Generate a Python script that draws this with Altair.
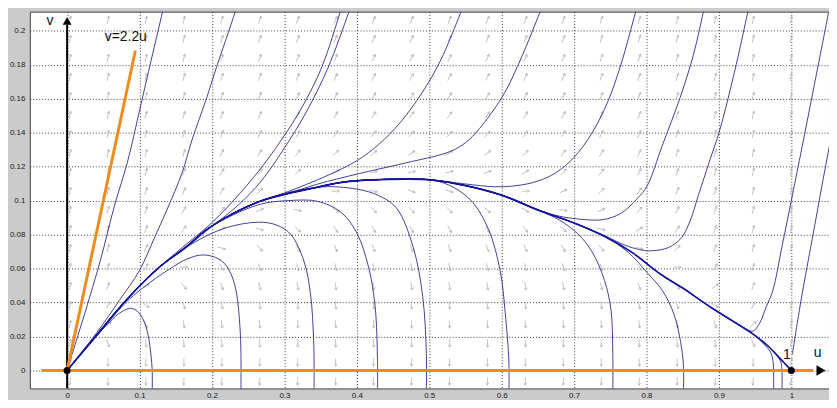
import altair as alt
import pandas as pd

# ---------------- axes ----------------
X_DOMAIN = [-0.0515, 1.052]
Y_DOMAIN = [-0.0106, 0.2113]
X_TICKS = [0, 0.1, 0.2, 0.3, 0.4, 0.5, 0.6, 0.7, 0.8, 0.9, 1]
Y_TICKS = [0, 0.02, 0.04, 0.06, 0.08, 0.1, 0.12, 0.14, 0.16, 0.18, 0.2]

# ---------------- trajectories (u, v) ----------------
SEPARATRIX = [(0, 0), (0.0359, 0.0183), (0.0816, 0.0414), (0.127, 0.0607), (0.1635, 0.0724),
              (0.1954, 0.0838), (0.2637, 0.0992), (0.3456, 0.1079), (0.3866, 0.1112),
              (0.4686, 0.1127), (0.505, 0.1121), (0.5505, 0.1088), (0.6007, 0.1031),
              (0.6507, 0.0944), (0.7008, 0.0867), (0.7418, 0.079), (0.78, 0.0695),
              (0.82, 0.0565), (0.85, 0.0485), (0.8876, 0.0375), (0.9467, 0.0215),
              (0.97, 0.0135), (0.99, 0.0045), (1.0, 0.0)]

H1 = [(0, 0), (0.03, 0.0152), (0.0587, 0.0285), (0.075, 0.0345), (0.0884, 0.0366), (0.099, 0.034),
      (0.107, 0.028), (0.113, 0.0183), (0.116, 0.008), (0.1175, 0.0), (0.1175, -0.012)]
H2 = [(0, 0), (0.04, 0.0197), (0.08, 0.0395), (0.1042, 0.0485), (0.1407, 0.0595), (0.165, 0.0655),
      (0.186, 0.068), (0.205, 0.0665), (0.218, 0.0626), (0.228, 0.055), (0.234, 0.0453),
      (0.2386, 0.026), (0.24, 0.01), (0.24, -0.012)]
H3_TAIL = [(0.172, 0.0745), (0.218, 0.0838), (0.264, 0.0873), (0.29, 0.0855), (0.309, 0.08),
           (0.327, 0.0644), (0.336, 0.0452), (0.3405, 0.0163), (0.341, -0.012)]
H4_TAIL = [(0.2637, 0.0975), (0.305, 0.1), (0.3456, 0.0996), (0.3775, 0.0934), (0.40, 0.081),
           (0.4163, 0.0607), (0.4253, 0.0376), (0.4286, 0.0048), (0.4286, -0.012)]
H5_TAIL = [(0.40, 0.1068), (0.43, 0.103), (0.455, 0.0955), (0.478, 0.0724), (0.491, 0.0435),
           (0.496, 0.01), (0.496, -0.012)]
H6_TAIL = [(0.535, 0.1075), (0.56, 0.099), (0.582, 0.083), (0.598, 0.0587), (0.605, 0.0337),
           (0.61, 0.005), (0.61, -0.012)]
H7_TAIL = [(0.68, 0.0885), (0.705, 0.0805), (0.724, 0.0705), (0.742, 0.053), (0.751, 0.0356),
           (0.7535, 0.01), (0.7535, -0.012)]
H8_TAIL = [(0.775, 0.0695), (0.80, 0.058), (0.822, 0.047), (0.838, 0.033), (0.847, 0.017),
           (0.851, 0.003), (0.851, -0.012)]
H9_TAIL = [(0.962, 0.0155), (0.971, 0.011), (0.9745, 0.006), (0.9755, 0.0), (0.9755, -0.012)]
H10_TAIL = [(0.968, 0.0143), (0.979, 0.009), (0.985, 0.0055), (0.987, 0.0), (0.987, -0.012)]

CURVE_A = [(0, 0), (0.0068, 0.0094), (0.0178, 0.0245), (0.0314, 0.0435), (0.0464, 0.0655),
           (0.0656, 0.0973), (0.0833, 0.1227), (0.1011, 0.1551), (0.1161, 0.1828), (0.1316, 0.211),
           (0.135, 0.218)]
CURVE_B = [(0, 0), (0.0406, 0.0221), (0.0724, 0.0414), (0.0997, 0.0587), (0.1225, 0.08),
           (0.1407, 0.0974), (0.1589, 0.1165), (0.1725, 0.1358), (0.193, 0.1609), (0.2045, 0.1763),
           (0.2318, 0.211), (0.236, 0.218)]
C1_TAIL = [(0.1589, 0.0723), (0.1999, 0.087), (0.2318, 0.101), (0.2637, 0.117), (0.2955, 0.1355),
           (0.325, 0.1555), (0.352, 0.179), (0.377, 0.211), (0.382, 0.218)]
C2_TAIL = [(0.161, 0.0712), (0.1999, 0.0848), (0.2363, 0.0974), (0.268, 0.1115), (0.30, 0.131),
           (0.33, 0.152), (0.36, 0.178), (0.389, 0.211), (0.395, 0.218)]
G_TAIL = [(0.30, 0.1045), (0.359, 0.1147), (0.40, 0.1235), (0.43, 0.133), (0.46, 0.146),
          (0.49, 0.1635), (0.515, 0.182), (0.5437, 0.211), (0.55, 0.218)]
F_TAIL = [(0.30, 0.1035), (0.3456, 0.1097), (0.404, 0.116), (0.4686, 0.1223), (0.523, 0.128),
          (0.541, 0.1315), (0.5597, 0.1378), (0.6007, 0.161), (0.628, 0.185), (0.653, 0.211),
          (0.66, 0.218)]
E0_TAIL = [(0.55, 0.1098), (0.59, 0.1082), (0.62, 0.1088), (0.65, 0.1115), (0.675, 0.1165),
           (0.70, 0.1255), (0.7236, 0.139), (0.7463, 0.158), (0.7646, 0.18), (0.785, 0.211),
           (0.79, 0.218)]
E1_TAIL = [(0.68, 0.0908), (0.71, 0.089), (0.74, 0.0888), (0.7646, 0.0925), (0.7873, 0.1012),
           (0.801, 0.1088), (0.8214, 0.132), (0.8466, 0.1609), (0.8648, 0.1859), (0.8784, 0.211),
           (0.882, 0.218)]
E2_TAIL = [(0.74, 0.0798), (0.77, 0.0738), (0.79, 0.0712), (0.8046, 0.0704), (0.8306, 0.0724),
           (0.8484, 0.0782), (0.8607, 0.0886), (0.8716, 0.1031), (0.8866, 0.1227), (0.9012, 0.1416),
           (0.9239, 0.1801), (0.9399, 0.211), (0.944, 0.218)]
D1_TAIL = [(0.915, 0.03), (0.935, 0.025), (0.9467, 0.0231), (0.9563, 0.0279), (0.9654, 0.0376),
           (0.974, 0.0464), (0.9877, 0.0742), (1.0014, 0.1031), (1.015, 0.132), (1.0515, 0.211)]
CURVE_D2 = [(1.0014, 0.0094), (1.0082, 0.0279), (1.015, 0.0453), (1.0287, 0.0771),
            (1.0423, 0.1089), (1.056, 0.14)]

THIN_CURVES = {
    "H1": H1,
    "H2": H2,
    "H3": SEPARATRIX[:4] + H3_TAIL,
    "H4": SEPARATRIX[:6] + H4_TAIL,
    "H5": SEPARATRIX[:8] + H5_TAIL,
    "H6": SEPARATRIX[:11] + H6_TAIL,
    "H7": SEPARATRIX[:14] + H7_TAIL,
    "H8": SEPARATRIX[:16] + H8_TAIL,
    "H9": SEPARATRIX[:21] + H9_TAIL,
    "H10": SEPARATRIX[:21] + H10_TAIL,
    "A": CURVE_A,
    "B": CURVE_B,
    "C1": SEPARATRIX[:4] + C1_TAIL,
    "C2": SEPARATRIX[:4] + C2_TAIL,
    "G": SEPARATRIX[:7] + G_TAIL,
    "F": SEPARATRIX[:7] + F_TAIL,
    "E0": SEPARATRIX[:11] + E0_TAIL,
    "E1": SEPARATRIX[:14] + E1_TAIL,
    "E2": SEPARATRIX[:15] + E2_TAIL,
    "D1": SEPARATRIX[:20] + D1_TAIL,
    "D2": CURVE_D2,
}

# ---------------- direction field (grid positions and arrow angles, degrees clockwise from up) ----------------
QUIVER_U = [0.004, 0.0564, 0.1088, 0.1612, 0.2136, 0.266, 0.3184, 0.3708, 0.4232, 0.4756,
            0.528, 0.5804, 0.6328, 0.6852, 0.7376, 0.79, 0.8424, 0.8948, 0.9472, 0.9996]
QUIVER_V = [0.2064, 0.1952, 0.184, 0.1728, 0.1616, 0.1504, 0.1392, 0.128, 0.1168, 0.1056,
            0.0944, 0.0832, 0.072, 0.0608, 0.0496, 0.0384, 0.0272, 0.016, 0.0048, -0.0064]
QUIVER_ANGLE = [
    [10, 12, 13, 14, 16, 18, 20, 21, 22, 22, 22, 22, 21, 20, 18, 16, 14, 13, 12, 10],
    [10, 12, 13, 15, 17, 19, 20, 22, 23, 23, 23, 23, 22, 20, 18, 17, 15, 13, 12, 10],
    [10, 12, 13, 15, 17, 19, 21, 23, 24, 25, 25, 24, 23, 21, 19, 17, 15, 13, 12, 10],
    [10, 12, 14, 16, 18, 20, 23, 25, 27, 28, 28, 27, 25, 23, 20, 17, 16, 14, 12, 10],
    [10, 12, 14, 16, 19, 22, 25, 28, 30, 31, 31, 30, 27, 25, 22, 19, 16, 14, 12, 10],
    [10, 12, 15, 17, 20, 24, 28, 31, 34, 36, 36, 34, 31, 27, 24, 20, 17, 14, 12, 10],
    [10, 12, 15, 18, 22, 26, 32, 37, 41, 43, 43, 41, 36, 31, 26, 22, 18, 15, 12, 10],
    [10, 13, 16, 19, 24, 30, 38, 46, 52, 56, 56, 52, 45, 37, 30, 24, 19, 15, 13, 10],
    [10, 13, 16, 21, 28, 36, 48, 61, 72, 78, 78, 71, 60, 47, 36, 27, 21, 16, 13, 10],
    [10, 13, 17, 23, 33, 48, 68, 88, 100, 109, 109, 100, 87, 66, 47, 32, 23, 17, 13, 10],
    [11, 14, 19, 27, 43, 69, 101, 121, 132, 136, 136, 131, 120, 99, 67, 41, 27, 18, 14, 10],
    [11, 15, 21, 34, 64, 107, 133, 145, 150, 152, 152, 150, 144, 132, 104, 61, 33, 21, 14, 10],
    [11, 15, 25, 50, 105, 140, 153, 158, 161, 162, 162, 161, 158, 152, 139, 102, 47, 24, 15, 10],
    [11, 17, 33, 90, 143, 158, 163, 166, 167, 168, 168, 167, 166, 163, 157, 141, 90, 31, 16, 10],
    [11, 20, 57, 141, 161, 167, 169, 171, 171, 172, 172, 171, 170, 169, 166, 160, 138, 52, 19, 10],
    [11, 26, 126, 163, 169, 172, 173, 174, 174, 175, 175, 174, 174, 173, 172, 169, 162, 119, 24, 10],
    [11, 57, 163, 172, 174, 175, 176, 176, 177, 177, 177, 177, 176, 176, 175, 174, 171, 162, 47, 10],
    [12, 160, 174, 176, 177, 178, 178, 178, 178, 178, 178, 178, 178, 178, 178, 177, 176, 174, 156, 10],
    [17, 178, 179, 179, 179, 179, 180, 180, 180, 180, 180, 180, 180, 180, 179, 179, 179, 179, 178, 11],
    [188, 182, 181, 181, 181, 181, 181, 181, 181, 181, 181, 181, 181, 181, 181, 181, 181, 181, 182, 190],
]

# ---------------- annotations ----------------
ORANGE_U_AXIS = [(-0.0355, 0.0), (1.03, 0.0)]
ORANGE_DIAG = [(0.0, 0.0), (0.0943, 0.1884)]
V_AXIS = [(0.0, -0.0106), (0.0, 0.2035)]
V_ARROW = [(0.0, 0.2058)]
U_ARROW = [(1.041, 0.0)]
EQUILIBRIA = [(0.0, 0.0), (1.0, 0.0)]
LABELS = [("v=2.2u", 0.052, 0.1938), ("v", -0.0285, 0.2035), ("1", 0.9885, 0.0065), ("u", 1.031, 0.0077)]

BLUE = "#2c2c8e"
ORANGE = "#ef8c1b"
FONT = "Liberation Sans"


def pts_df(pts, name="p"):
    return pd.DataFrame([{"curve": name, "i": i, "u": u, "v": v} for i, (u, v) in enumerate(pts)])


xs = alt.Scale(domain=X_DOMAIN, nice=False, zero=False)
ys = alt.Scale(domain=Y_DOMAIN, nice=False, zero=False)

x_axis = alt.Axis(values=X_TICKS, format="~g", title=None, grid=True, domain=False, ticks=False,
                  labelPadding=3, labelFontSize=8, labelColor="#1a1a1a", labelFont=FONT,
                  gridColor="#3c3c3c", gridDash=[1, 2], gridWidth=1, labelFlush=False)
y_axis = alt.Axis(values=Y_TICKS, format="~g", title=None, grid=True, domain=False, ticks=False,
                  labelPadding=5, labelFontSize=8, labelColor="#1a1a1a", labelFont=FONT,
                  gridColor="#3c3c3c", gridDash=[1, 2], gridWidth=1, labelFlush=False)


def X():
    return alt.X("u:Q", scale=xs, axis=x_axis)


def Y():
    return alt.Y("v:Q", scale=ys, axis=y_axis)


# quiver
q_rows = []
for j, row in enumerate(QUIVER_ANGLE):
    for k, a in enumerate(row):
        q_rows.append({"u": QUIVER_U[k], "v": QUIVER_V[j], "angle": a})
q_df = pd.DataFrame(q_rows)

ARROW_SHAPE = "M0,1L0,-1M-0.35,-0.4L0,-1L0.35,-0.4"
quiver = alt.Chart(q_df).mark_point(shape=ARROW_SHAPE, filled=False, size=64, color="#b8b8b8",
                                    strokeWidth=0.8, opacity=1, clip=True).encode(
    x=X(), y=Y(), angle=alt.Angle("angle:Q", scale=None),
)

thin_df = pd.concat([pts_df(p, n) for n, p in THIN_CURVES.items()], ignore_index=True)
thin = alt.Chart(thin_df).mark_line(interpolate="catmull-rom", clip=True, strokeWidth=0.9, color=BLUE).encode(
    x=X(), y=Y(), detail="curve:N", order="i:Q",
)

sep = alt.Chart(pts_df(SEPARATRIX, "S")).mark_line(interpolate="catmull-rom", clip=True, strokeWidth=1.7,
                                                   color="#1414a0").encode(
    x=X(), y=Y(), order="i:Q",
)


def straight(pts, name, color, width):
    return alt.Chart(pts_df(pts, name)).mark_line(color=color, strokeWidth=width, clip=True,
                                                  strokeCap="butt").encode(
        x=X(), y=Y(), order="i:Q",
    )


v_axis = straight(V_AXIS, "vaxis", "black", 2)
orange_u = straight(ORANGE_U_AXIS, "ou", ORANGE, 3)
orange_d = straight(ORANGE_DIAG, "od", ORANGE, 3)

v_head = alt.Chart(pts_df(V_ARROW)).mark_point(shape="triangle-up", filled=True, color="black",
                                               size=80, opacity=1).encode(x=X(), y=Y())
u_head = alt.Chart(pts_df(U_ARROW)).mark_point(shape="triangle-right", filled=True, color="black",
                                               size=110, opacity=1).encode(x=X(), y=Y())
dots = alt.Chart(pts_df(EQUILIBRIA)).mark_circle(color="black", size=50, opacity=1).encode(x=X(), y=Y())

lab_df = pd.DataFrame([{"t": t, "u": u, "v": v} for t, u, v in LABELS])
labels = alt.Chart(lab_df).mark_text(align="left", baseline="alphabetic", fontSize=14, font=FONT,
                                     color="#111111").encode(x=X(), y=Y(), text="t:N")

chart = alt.layer(quiver, thin, sep, orange_u, v_axis, orange_d, v_head, u_head, dots, labels).properties(
    width=806, height=380,
    autosize=alt.AutoSizeParams(type="none"),
    padding={"left": 22, "top": 2, "right": 0, "bottom": 10},
    background="#cbcbcb",
).configure_view(fill="white", stroke="#404040", strokeWidth=1)

chart.save("out.html", embed_options={"renderer": "svg", "actions": False})
